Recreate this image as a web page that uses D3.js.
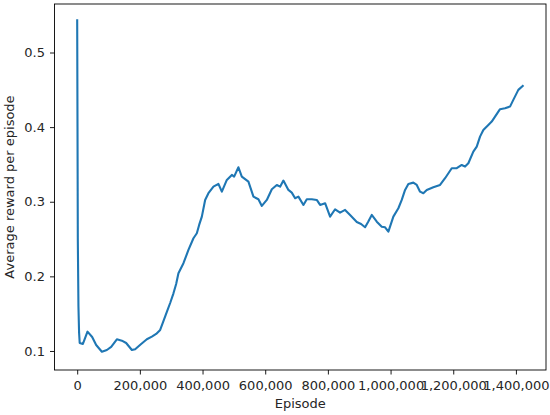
<!DOCTYPE html>
<html>
<head>
<meta charset="utf-8">
<script src="https://cdn.jsdelivr.net/npm/d3@7"></script>
<style>
  html, body { margin: 0; padding: 0; background: #fff; }
  svg { display: block; }
  text { font-family: "DejaVu Sans", sans-serif; fill: #262626; }
</style>
</head>
<body>
<svg id="chart" width="550" height="415"></svg>
<script>
const episodes = [
  0, 1000, 2000, 4000, 6000, 8000, 18200, 32900, 47800, 60600, 78800, 94700, 108500,
  126600, 142600, 156300, 174500, 185000, 204100, 222300, 238300, 252000, 264800,
  274300, 286100, 296700, 307200, 315800, 323100, 339100, 355000, 371000, 381800,
  389200, 397800, 408300, 418800, 434800, 450700, 461600, 477500, 493500, 500800,
  514500, 525300, 546400, 562400, 578300, 589200, 605100, 621100, 637000, 647500,
  658000, 674000, 684800, 695400, 705900, 721900, 732700, 748700, 764600, 775100,
  791100, 807000, 823000, 838900, 854900, 870800, 892200, 905900, 918700, 928200,
  940000, 956000, 971900, 982500, 993000, 1008900, 1024900, 1035700, 1046300,
  1056800, 1072700, 1083600, 1094100, 1104600, 1115500, 1136500, 1157900, 1173900,
  1195200, 1211200, 1227100, 1237700, 1248200, 1264100, 1275000, 1285500, 1296000,
  1312000, 1322800, 1333400, 1349300, 1365200, 1381200, 1391700, 1407700, 1421700
];
const rewards = [
  0.543, 0.40, 0.25, 0.16, 0.125, 0.1107, 0.1094, 0.1259, 0.1188, 0.108, 0.099, 0.1013, 0.1054,
  0.1157, 0.1138, 0.1107, 0.1013, 0.1023, 0.1094, 0.1157, 0.1192, 0.1228, 0.1282,
  0.1389, 0.1523, 0.1643, 0.1773, 0.1898, 0.2042, 0.2176, 0.2354, 0.2511, 0.2578,
  0.2689, 0.2800, 0.3024, 0.3114, 0.3202, 0.3239, 0.3135, 0.3292, 0.3359, 0.3336,
  0.3462, 0.3336, 0.3269, 0.3068, 0.3034, 0.2944, 0.3024, 0.3168, 0.3225, 0.3202,
  0.3283, 0.3158, 0.3122, 0.3047, 0.3068, 0.2957, 0.3034, 0.3034, 0.3024, 0.2957,
  0.2980, 0.2800, 0.2899, 0.2854, 0.2890, 0.2823, 0.2729, 0.2702, 0.2658, 0.2729,
  0.2823, 0.2733, 0.2666, 0.2658, 0.2599, 0.2800, 0.2913, 0.3024, 0.3158,
  0.3239, 0.3256, 0.3225, 0.3135, 0.3114, 0.3158, 0.3194, 0.3225, 0.3315,
  0.3449, 0.3449, 0.3493, 0.3471, 0.3516, 0.3672, 0.3739, 0.3873, 0.3962,
  0.4029, 0.4074, 0.4141, 0.4240, 0.4253, 0.4275, 0.4365, 0.4499, 0.4552
];
const xTicks = [0, 200000, 400000, 600000, 800000, 1000000, 1200000, 1400000];
const yTicks = [0.1, 0.2, 0.3, 0.4, 0.5];
const xLabel = "Episode";
const yLabel = "Average reward per episode";

const svg = d3.select("#chart");
const pL = 54.5, pR = 546, pT = 4, pB = 370;

const x = d3.scaleLinear().domain([-72400, 1496000]).range([pL, pR]);
const y = d3.scaleLinear().domain([0.0745, 0.565]).range([pB, pT]);

const fmt = d3.format(",");

const xAxis = svg.append("g")
  .attr("transform", `translate(0,${pB})`)
  .call(d3.axisBottom(x).tickValues(xTicks).tickFormat(fmt).tickSize(4.5).tickPadding(6.5).tickSizeOuter(0));
const yAxis = svg.append("g")
  .attr("transform", `translate(${pL},0)`)
  .call(d3.axisLeft(y).tickValues(yTicks).tickFormat(d3.format(".1f")).tickSize(4.5).tickPadding(5).tickSizeOuter(0));

[xAxis, yAxis].forEach(a => {
  a.select(".domain").remove();
  a.selectAll(".tick line").attr("stroke", "#000").attr("stroke-width", 0.9);
  a.selectAll(".tick text").attr("font-size", 13).attr("font-family", "DejaVu Sans, sans-serif").attr("fill", "#262626");
});

const line = d3.line().x((d, i) => x(episodes[i])).y(d => y(d));
svg.append("path")
  .datum(rewards)
  .attr("d", line)
  .attr("fill", "none")
  .attr("stroke", "#1f77b4")
  .attr("stroke-width", 2.1)
  .attr("stroke-linejoin", "round")
  .attr("stroke-linecap", "square");

svg.append("rect")
  .attr("x", pL).attr("y", pT)
  .attr("width", pR - pL).attr("height", pB - pT)
  .attr("fill", "none").attr("stroke", "#000").attr("stroke-width", 0.9);

svg.append("text")
  .attr("x", (pL + pR) / 2).attr("y", 407.5)
  .attr("text-anchor", "middle").attr("font-size", 13)
  .text(xLabel);

svg.append("text")
  .attr("transform", `translate(14,${(pT + pB) / 2}) rotate(-90)`)
  .attr("text-anchor", "middle").attr("font-size", 13)
  .text(yLabel);
</script>
</body>
</html>
